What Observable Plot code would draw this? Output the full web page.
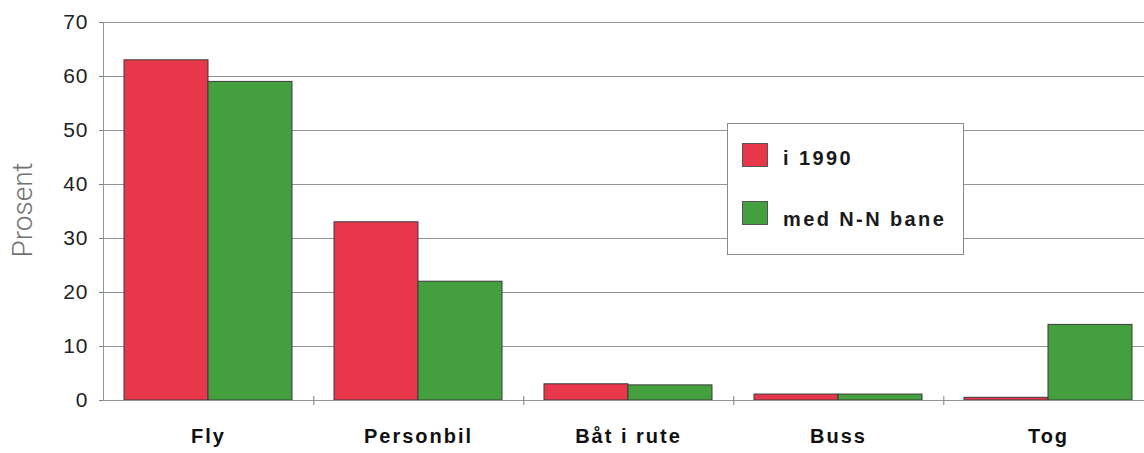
<!DOCTYPE html>
<html><head><meta charset="utf-8">
<script src="https://cdn.jsdelivr.net/npm/d3@7"></script>
<script src="https://cdn.jsdelivr.net/npm/@observablehq/plot@0.6"></script>
<style>
body{margin:0;background:#fff;}
#wrap{position:relative;width:1144px;height:453px;overflow:hidden;font-family:"Liberation Sans",Arial,sans-serif;}
#chart svg{max-width:none !important;}
.fxlab text{letter-spacing:2px;}
.ylab text{letter-spacing:1px;}
#ylabel{position:absolute;left:22px;top:210px;transform:translate(-50%,-50%) rotate(-90deg);font-family:Roboto,"Liberation Sans",sans-serif;font-weight:300;font-size:28px;color:#727272;white-space:nowrap;}
#legend{position:absolute;left:727px;top:123px;width:237px;height:132px;box-sizing:border-box;border:1px solid #8a8a8a;background:#fff;}
.sw{position:absolute;left:14px;width:26px;height:24px;box-sizing:border-box;border:1px solid #555;}
.lt{position:absolute;left:55px;font-weight:bold;font-size:20px;letter-spacing:2.4px;color:#1a1a1a;white-space:nowrap;line-height:23px;}
</style>
</head><body>
<div id="wrap"><div id="chart"></div><div id="ylabel">Prosent</div><div id="legend"></div></div>
<script>
const categories = ["Fly", "Personbil", "Båt i rute", "Buss", "Tog"];
const series = ["i 1990", "med N-N bane"];
const values1990 = [63, 33, 3.0, 1.1, 0.5];
const valuesNN = [59, 22, 2.8, 1.1, 14];
const yTicks = [0, 10, 20, 30, 40, 50, 60, 70];
const colors = ["#e8364b", "#44a03e"];

const data = categories.flatMap((c, i) => [
  {category: c, series: series[0], value: values1990[i]},
  {category: c, series: series[1], value: valuesNN[i]}
]);

const W = 1154, ML = 101;
const step = (W - ML) / categories.length;

const chart = Plot.plot({
  width: W, height: 453,
  marginLeft: ML, marginRight: 0, marginTop: 22, marginBottom: 53,
  style: {fontFamily: "'Liberation Sans', Arial, sans-serif", color: "#222", background: "transparent", maxWidth: "none"},
  fx: {domain: categories, padding: 0, label: null, axis: null},
  x: {domain: series, paddingInner: 0, paddingOuter: 0.25, axis: null},
  y: {domain: [0, 70], label: null, axis: null},
  color: {domain: series, range: colors},
  marks: [
    Plot.gridY(yTicks, {stroke: "#949494", strokeOpacity: 1, strokeWidth: 1}),
    Plot.axisY(yTicks, {tickSize: 4, tickPadding: 11, label: null, stroke: "#808080", fontSize: 21, fill: "#222", className: "ylab"}),
    Plot.barY(data, {fx: "category", x: "series", y: "value", fill: "series", stroke: "#3a3a3a", strokeWidth: 1}),
    Plot.ruleY([0], {stroke: "#949494"}),
    Plot.frame({anchor: "left", stroke: "#949494", facetAnchor: "left"}),
    Plot.axisFx({anchor: "bottom", tickSize: 0, tickPadding: 28, fontWeight: "bold", fontSize: 20, label: null, fill: "#111", className: "fxlab"}),
    Plot.axisFx({anchor: "bottom", tickSize: 9, dx: step / 2, dy: -4, tickFormat: () => "", label: null, stroke: "#808080"})
  ]
});
document.getElementById("chart").appendChild(chart);

const legend = document.getElementById("legend");
const swTops = [19, 77];
const txTops = [23, 84];
series.forEach((s, i) => {
  const sw = document.createElement("div");
  sw.className = "sw";
  sw.style.top = swTops[i] + "px";
  sw.style.background = colors[i];
  legend.appendChild(sw);
  const t = document.createElement("div");
  t.className = "lt";
  t.style.top = txTops[i] + "px";
  t.textContent = s;
  legend.appendChild(t);
});
</script>
</body></html>
